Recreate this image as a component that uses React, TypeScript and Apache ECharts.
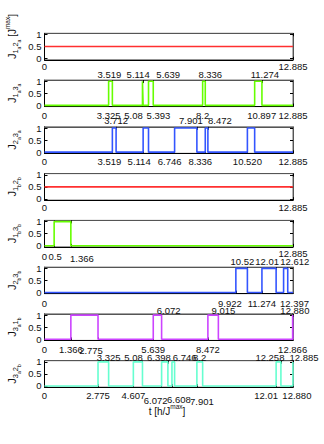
import React, { useEffect, useRef } from "react";
import * as echarts from "echarts";

// ---------- data ----------
const T_MAX = 12.885;
const Y_TICKS = [0, 0.5, 1];

// coupling indices for the y labels: [site, sub, site, sub]
const couplings = [
  ["1", "a", "2", "a"],
  ["1", "a", "3", "a"],
  ["2", "a", "3", "a"],
  ["1", "b", "2", "b"],
  ["1", "b", "3", "b"],
  ["2", "b", "3", "b"],
  ["3", "a", "1", "b"],
  ["3", "a", "2", "b"],
];

const level12a = 0.5;
const level12b = 0.5;
const pulses13a = [[3.325, 3.519], [5.08, 5.114], [5.393, 5.639], [8.2, 8.336], [10.897, 11.274]];
const pulses23a = [[3.519, 3.712], [5.114, 5.393], [6.746, 7.901], [8.336, 8.472], [10.52, 10.897]];
const pulses13b = [[0.5, 1.366]];
const pulses23b = [[9.922, 10.52], [11.274, 12.01], [12.397, 12.612]];
const pulses31 = [[1.366, 2.775], [5.639, 6.072], [8.472, 9.015], [12.866, 12.88]];
const pulses32 = [[2.775, 3.325], [4.607, 5.08], [6.072, 6.398], [6.608, 6.746], [7.901, 8.2], [12.01, 12.258], [12.88, 12.885]];

const bottom1 = ["0", "12.885"];
const bottom2 = ["0", "3.325", "5.08", "5.393", "8.2", "10.897", "12.885"];
const top2 = ["3.519", "5.114", "5.639", "8.336", "11.274"];
const bottom3 = ["0", "3.519", "5.114", "6.746", "8.336", "10.520", "12.885"];
const top3 = ["3.712", "7.901", "8.472"];
const bottom4 = ["0", "12.885"];
const bottom5 = ["0", "0.5", "1.366", "12.885"];
const bottom6 = ["0", "9.922", "11.274", "12.397"];
const top6 = ["10.52", "12.01", "12.612"];
const bottom7 = ["0", "1.366", "2.775", "5.639", "8.472", "12.866"];
const top7 = ["6.072", "9.015", "12.880"];
const bottom8 = ["0", "2.775", "4.607", "6.072", "6.608", "7.901", "12.01", "12.880"];
const top8 = ["3.325", "5.08", "6.398", "6.746", "8.2", "12.258", "12.885"];

// ---------- layout / style ----------
const COLORS = ["#FF3030", "#66FF00", "#3355FF", "#FF3030", "#66FF00", "#3355FF", "#CC44FF", "#66FFD0"];
const GRID_LEFT = 44.5;
const GRID_WIDTH = 248.5;
const GRID_TOP0 = 33.3;
const GRID_STEP = 46.77;
const GRID_H = 26.5;
const FONT = "Liberation Sans, Arial, Helvetica, sans-serif";
const FS = 9.5;
const bottomMargins = [2, 4, 3, 2, 2, 4.5, 4, 3];
const topMargins = [1, 0.5, 1, 1, 1, 0.5, -2, -1.5];
// label nudges [dx, dy] in pixels so that crowded labels stay readable
const bottomNudge: Record<string, number[]>[] = [
  {},
  { "5.08": [-9, 0], "5.393": [10, 0], "10.897": [7, 0] },
  { "3.519": [-3, 0], "5.114": [-4, 0], "6.746": [-5, 0], "8.336": [-5, 0] },
  {},
  { "0": [0, 3], "0.5": [1, 3], "1.366": [11, 5] },
  { "9.922": [-6, 0], "12.397": [11, 0] },
  { "2.775": [-7, 1] },
  { "6.072": [-6, 5], "6.608": [7, 4], "7.901": [5, 6], "12.01": [-10, 0], "12.880": [4, 0] },
];
const topNudge: Record<string, number[]>[] = [
  {},
  { "3.519": [-3, 0], "5.114": [-5, 0], "5.639": [15, 0], "8.336": [5, 0], "11.274": [3, 0] },
  { "7.901": [-6, 0], "8.472": [12, 0] },
  {},
  {},
  { "10.52": [-5, 0], "12.01": [-9, 0], "12.612": [7, 0] },
  { "6.072": [7, 0], "9.015": [5, 0], "12.880": [2, 0] },
  { "5.08": [-9, 0], "6.398": [-9, 0], "6.746": [10, 0], "8.2": [-3, 0], "12.258": [-11, 0], "12.885": [11, 0] },
];

function stepPoints(pulses: number[][]) {
  const pts: number[][] = [[0, 0]];
  for (const [a, b] of pulses) {
    pts.push([a, 0], [a, 1]);
    if (b >= T_MAX) {
      pts.push([T_MAX, 1]);
      return pts;
    }
    pts.push([b, 1], [b, 0]);
  }
  pts.push([T_MAX, 0]);
  return pts;
}
const constPoints = (level: number) => [[0, level], [T_MAX, level]];

const seriesData = [
  constPoints(level12a),
  stepPoints(pulses13a),
  stepPoints(pulses23a),
  constPoints(level12b),
  stepPoints(pulses13b),
  stepPoints(pulses23b),
  stepPoints(pulses31),
  stepPoints(pulses32),
];
const bottomLabels = [bottom1, bottom2, bottom3, bottom4, bottom5, bottom6, bottom7, bottom8];
const topLabels: string[][] = [[], top2, top3, [], [], top6, top7, top8];

function buildLabel(labels: string[], nudge: Record<string, number[]>, isTop: boolean) {
  const rich: Record<string, any> = {};
  labels.forEach((l, i) => {
    const [dx, dy] = nudge[l] || [0, 0];
    const pad = [0, 0, 0, 0];
    if (dx > 0) pad[3] = 2 * dx;
    if (dx < 0) pad[1] = -2 * dx;
    if (dy > 0) {
      if (isTop) pad[2] = dy;
      else pad[0] = dy;
    }
    rich["L" + i] = { fontSize: FS, fontFamily: FONT, color: "#111", padding: pad };
  });
  const formatter = (v: number) => {
    const i = labels.findIndex((l) => Math.abs(parseFloat(l) - v) < 1e-9);
    if (i < 0) return String(v);
    return `{L${i}|${labels[i]}}`;
  };
  return { rich, formatter };
}

const nameRich = {
  J: { fontSize: 11, fontFamily: FONT, fill: "#111", lineHeight: 18 },
  s: { fontSize: 7.5, fontFamily: FONT, fill: "#111", verticalAlign: "bottom", padding: [0, 0, 2, 0] },
  ss: { fontSize: 5, fontFamily: FONT, fill: "#111", verticalAlign: "bottom" },
  n: { fontSize: 10, fontFamily: FONT, fill: "#111", lineHeight: 18 },
  sup: { fontSize: 6.5, fontFamily: FONT, fill: "#111", verticalAlign: "top", padding: [1, 0, 0, 0] },
};

export default function App() {
  const ref = useRef<HTMLDivElement>(null);
  useEffect(() => {
    if (!ref.current) return;
    const chart = echarts.init(ref.current, undefined, { renderer: "svg" });
    const grids: any[] = [];
    const xAxes: any[] = [];
    const yAxes: any[] = [];
    const series: any[] = [];
    const graphics: any[] = [];
    for (let k = 0; k < 8; k++) {
      const top = GRID_TOP0 + k * GRID_STEP;
      grids.push({
        left: GRID_LEFT, width: GRID_WIDTH, top, height: GRID_H,
        show: true, borderColor: "#666", borderWidth: 1, backgroundColor: "#fff",
        containLabel: false, outerBoundsMode: "none",
      });
      const bVals = bottomLabels[k].map(parseFloat);
      const tVals = topLabels[k].map(parseFloat);
      const bl = buildLabel(bottomLabels[k], bottomNudge[k], false);
      const tl = buildLabel(topLabels[k], topNudge[k], true);
      xAxes.push({
        type: "value", gridIndex: k, position: "bottom", min: 0, max: T_MAX,
        axisLine: { show: true, onZero: false, lineStyle: { color: "#000", width: 1 } },
        axisTick: { show: true, inside: true, length: 3, customValues: bVals, lineStyle: { color: "#000" } },
        axisLabel: {
          show: true, customValues: bVals, margin: bottomMargins[k], hideOverlap: false,
          formatter: bl.formatter, rich: bl.rich,
          fontSize: FS, fontFamily: FONT, color: "#111",
        },
        splitLine: { show: false },
      });
      xAxes.push({
        type: "value", gridIndex: k, position: "top", min: 0, max: T_MAX,
        axisLine: { show: true, onZero: false, lineStyle: { color: "#555", width: 1 } },
        axisTick: { show: true, inside: true, length: 3, customValues: tVals.length ? tVals : bVals, lineStyle: { color: "#000" } },
        axisLabel: {
          show: tVals.length > 0, customValues: tVals.length ? tVals : bVals, margin: topMargins[k], hideOverlap: false,
          formatter: tl.formatter, rich: tl.rich,
          fontSize: FS, fontFamily: FONT, color: "#111",
        },
        splitLine: { show: false },
      });
      yAxes.push({
        type: "value", gridIndex: k, position: "left", min: -0.05, max: 1.05,
        axisLine: { show: true, onZero: false, lineStyle: { color: "#000", width: 1 } },
        axisTick: { show: true, inside: true, length: 3, customValues: Y_TICKS, lineStyle: { color: "#000" } },
        axisLabel: {
          show: true, customValues: Y_TICKS, margin: 3, hideOverlap: false,
          formatter: (v: number) => String(v), fontSize: FS, fontFamily: FONT, color: "#111",
        },
        splitLine: { show: false },
      });
      yAxes.push({
        type: "value", gridIndex: k, position: "right", min: -0.05, max: 1.05,
        axisLine: { show: true, onZero: false, lineStyle: { color: "#555", width: 1 } },
        axisTick: { show: true, inside: true, length: 3, customValues: Y_TICKS, lineStyle: { color: "#000" } },
        axisLabel: { show: false },
        splitLine: { show: false },
      });
      series.push({
        type: "line", xAxisIndex: 2 * k, yAxisIndex: 2 * k, data: seriesData[k],
        showSymbol: false, symbol: "none", silent: true,
        lineStyle: { color: COLORS[k], width: 1.6 },
      });
      const c = couplings[k];
      let txt = `{J|J}{s|${c[0]}}{ss|${c[1]}}{s|${c[2]}}{ss|${c[3]}}`;
      let cy = top + GRID_H / 2;
      if (k === 0) {
        txt += `{n| [J}{sup|max}{n|]}`;
        cy -= 10;
      }
      graphics.push({
        type: "text", x: 21, y: cy, rotation: Math.PI / 2,
        style: { text: txt, rich: nameRich, align: "center", verticalAlign: "bottom", fill: "#111" },
      });
    }
    graphics.push({
      type: "text", x: 167, y: 411,
      style: {
        text: "{n|t [h/J}{sup|max}{n|]}", rich: nameRich, align: "center", verticalAlign: "middle", fill: "#111",
      },
    });
    chart.setOption({
      animation: false,
      backgroundColor: "#fff",
      grid: grids,
      xAxis: xAxes,
      yAxis: yAxes,
      series,
      graphic: graphics,
    });
    return () => chart.dispose();
  }, []);
  return <div ref={ref} style={{ position: "absolute", left: 0, top: 0, width: 324, height: 444 }} />;
}
